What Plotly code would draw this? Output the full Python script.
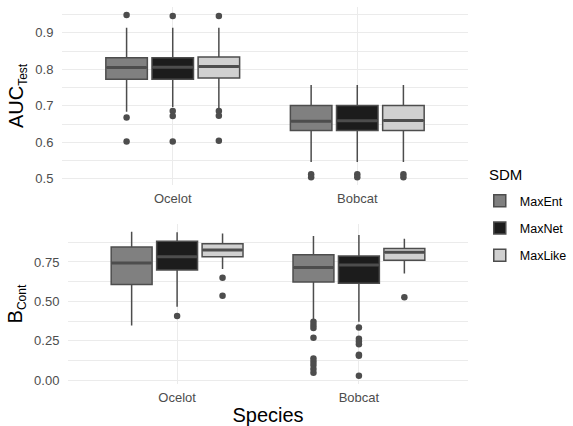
import plotly.graph_objects as go

species = ["Ocelot", "Bobcat"]
sdms = ["MaxEnt", "MaxNet", "MaxLike"]
colors = {"MaxEnt": "#808080", "MaxNet": "#1c1c1c", "MaxLike": "#d0d0d0"}

# AUC_Test stats per SDM: [Ocelot, Bobcat]
auc_q1 = {"MaxEnt": [0.773, 0.632], "MaxNet": [0.773, 0.632], "MaxLike": [0.776, 0.632]}
auc_med = {"MaxEnt": [0.805, 0.658], "MaxNet": [0.806, 0.659], "MaxLike": [0.808, 0.660]}
auc_q3 = {"MaxEnt": [0.832, 0.701], "MaxNet": [0.832, 0.701], "MaxLike": [0.834, 0.701]}
auc_lo = {"MaxEnt": [0.684, 0.546], "MaxNet": [0.697, 0.546], "MaxLike": [0.692, 0.546]}
auc_hi = {"MaxEnt": [0.914, 0.757], "MaxNet": [0.914, 0.757], "MaxLike": [0.914, 0.757]}
auc_out = {
    "MaxEnt": [[0.949, 0.668, 0.602], [0.512, 0.504]],
    "MaxNet": [[0.946, 0.686, 0.672, 0.602], [0.512, 0.504]],
    "MaxLike": [[0.946, 0.686, 0.673, 0.604], [0.512, 0.504]],
}

# B_Cont stats per SDM: [Ocelot, Bobcat]
b_q1 = {"MaxEnt": [0.606, 0.623], "MaxNet": [0.699, 0.615], "MaxLike": [0.783, 0.760]}
b_med = {"MaxEnt": [0.743, 0.714], "MaxNet": [0.783, 0.731], "MaxLike": [0.826, 0.811]}
b_q3 = {"MaxEnt": [0.845, 0.796], "MaxNet": [0.881, 0.788], "MaxLike": [0.866, 0.836]}
b_lo = {"MaxEnt": [0.346, 0.385], "MaxNet": [0.465, 0.371], "MaxLike": [0.705, 0.676]}
b_hi = {"MaxEnt": [0.942, 0.914], "MaxNet": [0.938, 0.921], "MaxLike": [0.931, 0.897]}
b_out = {
    "MaxEnt": [[], [0.370, 0.350, 0.330, 0.268, 0.137, 0.116, 0.095, 0.070, 0.046]],
    "MaxNet": [[0.407], [0.333, 0.262, 0.245, 0.228, 0.160, 0.155, 0.027]],
    "MaxLike": [[0.650, 0.536], [0.526]],
}

offsets = {"MaxEnt": -0.25, "MaxNet": 0.0, "MaxLike": 0.25}
BOX_W = 0.225
OUTLINE = "#4d4d4d"

fig = go.Figure()

def add_panel(q1, med, q3, lo, hi, out, xa, ya, legend):
    for s in sdms:
        xs = [i + 1 + offsets[s] for i in range(len(species))]
        fig.add_trace(go.Box(
            x=xs, q1=q1[s], median=med[s], q3=q3[s],
            lowerfence=lo[s], upperfence=hi[s],
            width=BOX_W, whiskerwidth=0,
            fillcolor=colors[s], line=dict(color=OUTLINE, width=1.5),
            name=s, legendgroup=s, showlegend=legend,
            boxpoints=False, xaxis=xa, yaxis=ya,
        ))
        # thicker median bar (ggplot fatten)
        mx, my = [], []
        for i, xc in enumerate(xs):
            mx += [xc - BOX_W / 2 + 0.004, xc + BOX_W / 2 - 0.004, None]
            my += [med[s][i], med[s][i], None]
        fig.add_trace(go.Scatter(
            x=mx, y=my, mode="lines", line=dict(color=OUTLINE, width=3),
            showlegend=False, legendgroup=s, xaxis=xa, yaxis=ya, hoverinfo="skip",
        ))
        px, py = [], []
        for i in range(len(species)):
            for v in out[s][i]:
                px.append(i + 1 + offsets[s])
                py.append(v)
        fig.add_trace(go.Scatter(
            x=px, y=py, mode="markers",
            marker=dict(color=OUTLINE, size=6.5),
            showlegend=False, legendgroup=s, xaxis=xa, yaxis=ya,
            hoverinfo="y",
        ))

add_panel(auc_q1, auc_med, auc_q3, auc_lo, auc_hi, auc_out, "x", "y", True)
add_panel(b_q1, b_med, b_q3, b_lo, b_hi, b_out, "x2", "y2", False)

grid = "#ebebeb"
FONT = "Liberation Sans, Arial, sans-serif"
tickfont = dict(family=FONT, size=13, color="#4d4d4d")
xcommon = dict(
    range=[0.4, 2.6], tickmode="array", tickvals=[1, 2], ticktext=species,
    showgrid=True, gridcolor=grid, gridwidth=1, zeroline=False, showline=False,
    ticks="outside", ticklen=1, tickcolor="rgba(0,0,0,0)", tickfont=tickfont,
    automargin=False,
)
ycommon = dict(
    showgrid=True, gridcolor=grid, gridwidth=1, zeroline=False, showline=False,
    ticks="outside", ticklen=5, tickcolor="rgba(0,0,0,0)", tickfont=tickfont,
    automargin=False,
)
TITLE_FONT = dict(size=20, color="black", family=FONT)

fig.update_layout(
    width=573, height=426,
    margin=dict(l=62, r=105, t=7, b=42, autoexpand=False),
    paper_bgcolor="white", plot_bgcolor="white",
    font=dict(family=FONT, color="black"),
    boxmode="overlay",
    xaxis=dict(domain=[0, 1], anchor="y", **xcommon),
    xaxis2=dict(domain=[0.0148, 1], anchor="y2",
                title=dict(text="Species", font=TITLE_FONT, standoff=5),
                **xcommon),
    yaxis=dict(domain=[0.528, 1.0], anchor="x", range=[0.483, 0.971],
               tickvals=[0.5, 0.6, 0.7, 0.8, 0.9], tickformat=".1f",
               minor=dict(tickvals=[0.55, 0.65, 0.75, 0.85, 0.95], showgrid=True,
                          gridcolor=grid, gridwidth=0.6),
               title=dict(text="AUC<sub><span style='font-size:12px'>Test</span></sub>",
                          font=TITLE_FONT, standoff=6),
               **ycommon),
    yaxis2=dict(domain=[0.0, 0.424], anchor="x2", range=[-0.025, 0.99],
                tickvals=[0, 0.25, 0.5, 0.75], tickformat=".2f",
                minor=dict(tickvals=[0.125, 0.375, 0.625, 0.875], showgrid=True,
                           gridcolor=grid, gridwidth=0.6),
                title=dict(text="B<sub><span style='font-size:12px'>Cont</span></sub>",
                           font=TITLE_FONT, standoff=6),
                **ycommon),
    legend=dict(
        x=1.029, xanchor="left", y=0.525, yanchor="top",
        font=dict(size=12.5, color="black", family=FONT),
        tracegroupgap=8, itemwidth=30,
        bgcolor="rgba(0,0,0,0)",
    ),
    annotations=[dict(
        text="SDM", xref="paper", yref="paper", x=1.0468, y=0.557,
        xanchor="left", yanchor="middle", showarrow=False,
        font=dict(size=15, color="black", family=FONT),
    )],
)

fig.write_html("out.html", config={"displayModeBar": False},
               post_script="document.body.style.margin='0';")
